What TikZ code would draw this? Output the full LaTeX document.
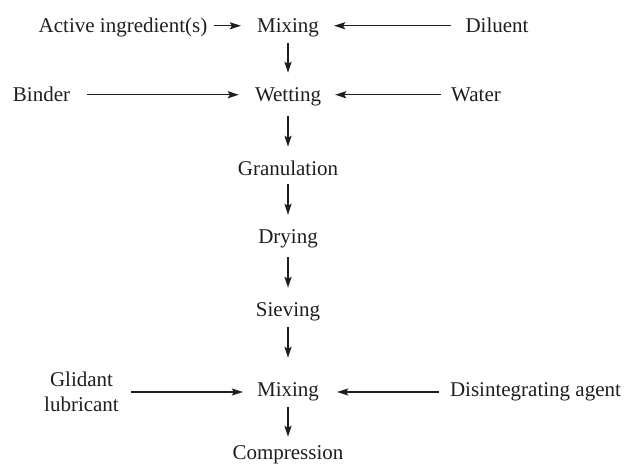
\documentclass[tikz,border=0pt]{standalone}
\usepackage{fontspec}
\setmainfont{Liberation Serif}
\usetikzlibrary{arrows.meta}
\definecolor{ink}{HTML}{1E1E1E}
\begin{document}
\begin{tikzpicture}[x=1pt,y=-1pt,
  lbl/.style={inner sep=0pt,anchor=base,text height=14.5pt,text depth=0pt,
    text=ink,font=\fontsize{21}{25}\selectfont},
  arr/.style={draw=ink,line width=1.4pt,-{Stealth[length=11pt,width=7pt,inset=2pt]}}]
\useasboundingbox (0,0) rectangle (626,465);
% main column
\node[lbl] (mix1) at (288,33) {Mixing};
\node[lbl] (wet)  at (288,102) {Wetting};
\node[lbl] (gran) at (288,176) {Granulation};
\node[lbl] (dry)  at (288,243) {Drying};
\node[lbl] (siev) at (288,316) {Sieving};
\node[lbl] (mix2) at (288,396) {Mixing};
\node[lbl] (comp) at (288,459) {Compression};
% inputs
\node[lbl] (act)  at (123,33) {Active ingredient(s)};
\node[lbl] (dil)  at (497,33) {Diluent};
\node[lbl] (bind) at (41.5,102) {Binder};
\node[lbl] (wat)  at (476,102) {Water};
\node[lbl,align=center,text height=,text depth=,anchor=center,
  font=\fontsize{21}{25}\selectfont] (glid) at (81.5,392) {Glidant\\lubricant};
\node[lbl] (dis)  at (535.5,396) {Disintegrating agent};
% vertical flow
\draw[arr,shorten <=10pt,shorten >=14.5pt] (mix1.south) -- (wet.north);
\draw[arr,shorten <=14pt,shorten >=14.5pt] (wet.south) -- (gran.north);
\draw[arr,shorten <=8pt,shorten >=13.5pt] (gran.south) -- (dry.north);
\draw[arr,shorten <=14pt,shorten >=13.5pt] (dry.south) -- (siev.north);
\draw[arr,shorten <=11pt,shorten >=23.5pt] (siev.south) -- (mix2.north);
\draw[arr,shorten <=11pt,shorten >=7.5pt] (mix2.south) -- (comp.north);
% horizontal inputs
\draw[arr,shorten <=7pt,shorten >=16pt] (act.east) -- (mix1.west);
\draw[arr,shorten <=14pt,shorten >=15pt] (dil.west) -- (mix1.east);
\draw[arr,shorten <=17pt,shorten >=16pt] (bind.east) -- (wet.west);
\draw[arr,shorten <=10pt,shorten >=14pt] (wat.west) -- (wet.east);
\draw[arr,shorten <=12pt,shorten >=14pt] (glid.east |- 0,392) -- (mix2.west |- 0,392);
\draw[arr,shorten <=11pt,shorten >=18pt] (dis.west |- 0,392) -- (mix2.east |- 0,392);
\end{tikzpicture}
\end{document}
